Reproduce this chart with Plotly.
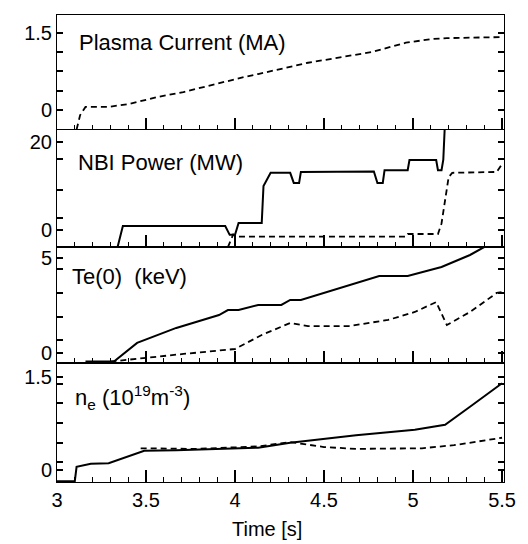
import plotly.graph_objects as go
from plotly.subplots import make_subplots

# ---------------- data ----------------
t_ip = [3.11, 3.13, 3.16, 3.29, 3.41, 3.56, 3.71, 3.87, 4.05, 4.13, 4.41, 4.77, 4.96, 5.10, 5.19, 5.50]
ip = [-0.38, -0.10, 0.06, 0.06, 0.12, 0.25, 0.35, 0.49, 0.64, 0.70, 0.92, 1.13, 1.31, 1.38, 1.40, 1.42]

t_nbi1 = [3.34, 3.37, 3.945, 3.97, 4.00, 4.02, 4.15, 4.16, 4.20, 4.31, 4.33, 4.36, 4.37, 4.78, 4.80, 4.83,
          4.84, 4.97, 4.98, 5.13, 5.14, 5.16, 5.17, 5.18]
nbi1 = [-3.9, 0.9, 0.9, -1.1, -1.1, 1.6, 1.6, 10.0, 13.0, 13.0, 10.7, 10.7, 13.2, 13.3, 10.7, 10.7,
        13.6, 13.6, 15.9, 15.9, 13.6, 13.6, 16.0, 25.0]
t_nbi2 = [3.96, 3.99, 4.02, 4.96, 4.97, 5.14, 5.16, 5.18, 5.20, 5.22, 5.47, 5.50]
nbi2 = [-3.9, -1.0, -1.5, -1.5, -0.9, -0.9, 1.5, 6.8, 12.0, 13.0, 13.2, 15.0]

t_te1 = [3.16, 3.32, 3.45, 3.67, 3.91, 3.96, 4.02, 4.13, 4.26, 4.31, 4.37, 4.81, 4.97, 5.16, 5.32, 5.41, 5.50]
te1 = [-0.45, -0.45, 0.53, 1.32, 2.00, 2.26, 2.26, 2.53, 2.53, 2.79, 2.79, 4.05, 4.05, 4.53, 5.16, 5.63, 6.10]
t_te2 = [3.30, 3.49, 3.71, 4.00, 4.13, 4.15, 4.31, 4.41, 4.64, 4.86, 5.01, 5.13, 5.19, 5.32, 5.47, 5.50]
te2 = [-0.45, -0.26, -0.05, 0.21, 0.84, 0.95, 1.58, 1.42, 1.42, 1.74, 2.16, 2.68, 1.47, 2.16, 3.16, 3.21]

t_ne1 = [3.00, 3.10, 3.11, 3.19, 3.29, 3.34, 3.41, 3.49, 3.67, 4.13, 4.31, 4.68, 5.01, 5.18, 5.32, 5.50]
ne1 = [-0.18, -0.18, 0.05, 0.10, 0.11, 0.16, 0.24, 0.31, 0.32, 0.36, 0.44, 0.56, 0.65, 0.73, 1.02, 1.40]
t_ne2 = [3.47, 3.78, 4.13, 4.31, 4.50, 4.68, 5.05, 5.23, 5.50]
ne2 = [0.35, 0.34, 0.38, 0.45, 0.37, 0.34, 0.35, 0.40, 0.52]

x_ticks = [3, 3.5, 4, 4.5, 5, 5.5]
x_ticktext = ["3", "3.5", "4", "4.5", "5", "5.5"]
panel_titles = ["Plasma Current (MA)", "NBI Power (MW)", "Te(0)  (keV)",
                "n<sub>e</sub> (10<sup>19</sup>m<sup>-3</sup>)"]
x_title = "Time [s]"
y_tickvals = [[0, 0.375, 0.75, 1.125, 1.5], [0, 2.7, 9.1, 16.1, 20], [0, 0.68, 1.89, 3.16, 4.42, 5],
              [0, 0.13, 0.44, 0.76, 1.08, 1.39, 1.5]]
y_ticktext = [["0", "", "", "", "1.5"], ["0", "", "", "", "20"], ["0", "", "", "", "", "5"],
              ["0", "", "", "", "", "", "1.5"]]

# ---------------- figure ----------------
fig = make_subplots(rows=4, cols=1, shared_xaxes=True, vertical_spacing=0,
                    row_heights=[115, 117, 116, 119])

solid = dict(color="black", width=2)
dashed = dict(color="black", width=1.8, dash="6px,4px")

fig.add_trace(go.Scatter(x=t_ip, y=ip, mode="lines", line=dashed), row=1, col=1)
fig.add_trace(go.Scatter(x=t_nbi1, y=nbi1, mode="lines", line=solid), row=2, col=1)
fig.add_trace(go.Scatter(x=t_nbi2, y=nbi2, mode="lines", line=dashed), row=2, col=1)
fig.add_trace(go.Scatter(x=t_te1, y=te1, mode="lines", line=solid), row=3, col=1)
fig.add_trace(go.Scatter(x=t_te2, y=te2, mode="lines", line=dashed), row=3, col=1)
fig.add_trace(go.Scatter(x=t_ne1, y=ne1, mode="lines", line=solid), row=4, col=1)
fig.add_trace(go.Scatter(x=t_ne2, y=ne2, mode="lines", line=dashed), row=4, col=1)

y_ranges = [[-0.39, 1.85], [-3.86, 22.73], [-0.526, 5.58], [-0.194, 1.726]]

tickfont = dict(size=20, color="black")

for i in range(4):
    r = i + 1
    fig.update_yaxes(row=r, col=1, range=y_ranges[i],
                     tickmode="array", tickvals=y_tickvals[i], ticktext=y_ticktext[i],
                     ticks="inside", ticklen=6, tickwidth=1.5, tickcolor="black",
                     showline=True, linecolor="black", mirror="ticks", tickfont=tickfont)
    fig.update_xaxes(row=r, col=1, range=[3, 5.511],
                     tickmode="array", tickvals=x_ticks, ticktext=x_ticktext,
                     ticks="inside", ticklen=12, tickwidth=1.6, tickcolor="black",
                     minor=dict(dtick=0.1, tick0=3, ticks="inside", ticklen=5,
                                tickwidth=1.3, tickcolor="black"),
                     showline=True, linecolor="black", linewidth=1.2, mirror=True,
                     showgrid=False, zeroline=False, tickfont=tickfont,
                     showticklabels=(r == 4))

fig.update_yaxes(showgrid=False, zeroline=False)

title_pos = [(0.0458, 0.942), (0.0436, 0.685), (0.0283, 0.439), (0.0349, 0.182)]
for i in range(4):
    fig.add_annotation(text=panel_titles[i], xref="paper", yref="paper",
                       x=title_pos[i][0], y=title_pos[i][1], xanchor="left", yanchor="middle",
                       showarrow=False, font=dict(size=22, color="black"))

fig.add_annotation(text=x_title, xref="paper", yref="paper", x=0.4706, y=-0.101,
                   xanchor="center", yanchor="middle", showarrow=False,
                   font=dict(size=20, color="black"))

fig.update_layout(width=528, height=544, margin=dict(l=57, r=12, t=15, b=62),
                  font=dict(family="Liberation Sans", color="black"),
                  plot_bgcolor="white", showlegend=False)

fig.write_html("out.html")
